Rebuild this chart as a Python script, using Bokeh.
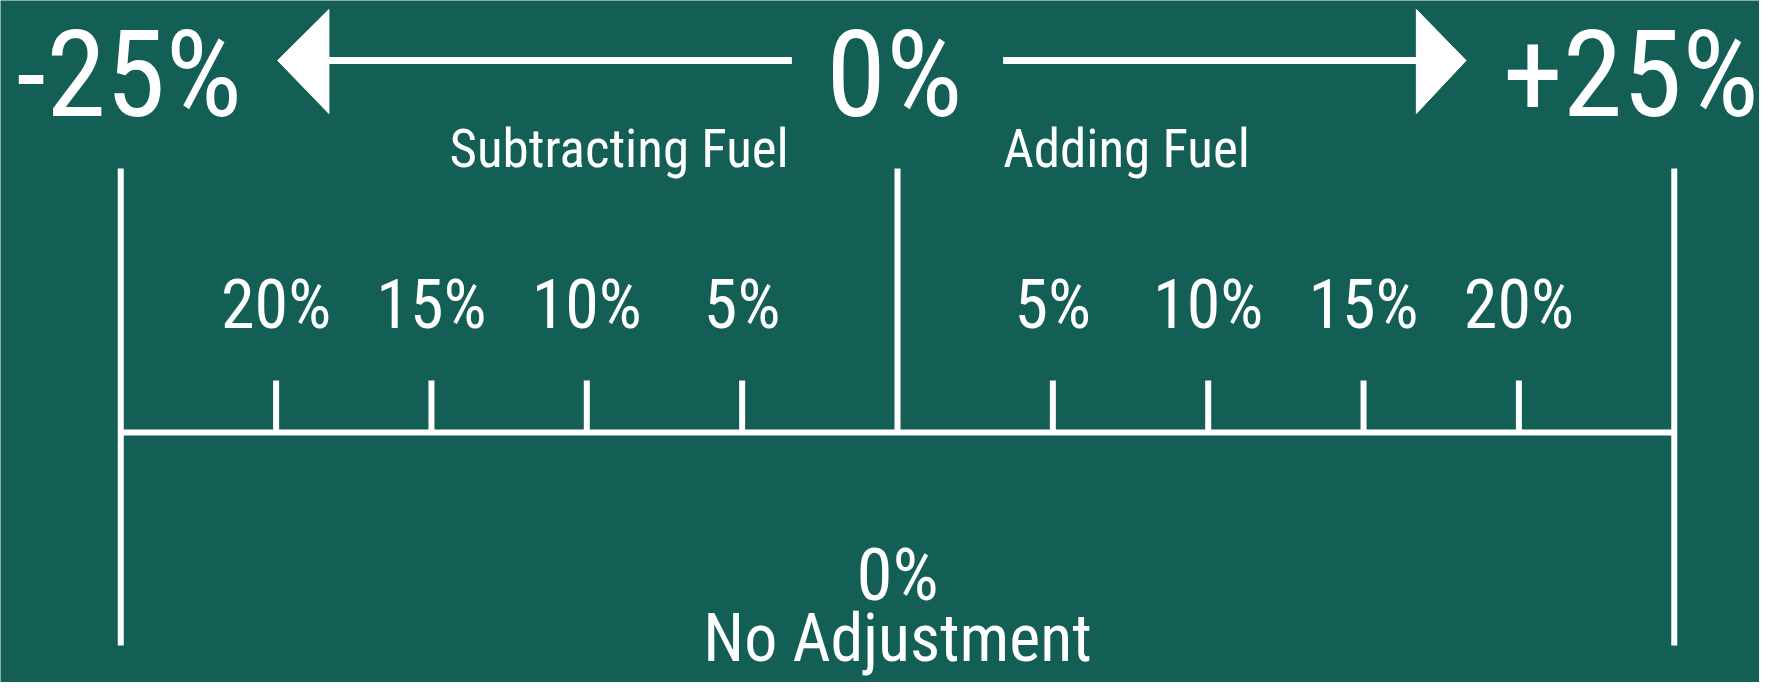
from bokeh.plotting import figure
from bokeh.models import Range1d
from bokeh.core.properties import value
from bokeh.embed import file_html
from bokeh.resources import INLINE

# ---- data ----
tick_values = [-20, -15, -10, -5, 5, 10, 15, 20]
tick_labels = ["20%", "15%", "10%", "5%", "5%", "10%", "15%", "20%"]
end_values = [-25, 0, 25]
end_labels = ["-25%", "0%", "+25%"]
side_labels = ["Subtracting Fuel", "Adding Fuel"]
center_labels = ["0%", "No Adjustment"]

BG = "#135f56"
FG = "#ffffff"
FONT = value("'Roboto Condensed', 'Sofia Sans Condensed', 'Asap Condensed', 'Liberation Sans Narrow', sans-serif")

# scale: 31.07 px per percent, centre at pixel 897
PX = 31.07
CX = 897
W, H = 1759, 682
x0 = (0 - CX) / PX
x1 = (W - CX) / PX
K = 0.35  # baseline correction (fraction of font size)

p = figure(width=W, height=H, output_backend="svg", toolbar_location=None,
           x_range=Range1d(x0, x1), y_range=Range1d(H, 0),
           min_border=0)
p.axis.visible = False
p.grid.visible = False
p.outline_line_color = None
p.background_fill_color = BG
p.border_fill_color = BG


def label(xs, base, texts, size, align="center"):
    p.text(x=xs, y=[base - K * size] * len(xs), text=texts, text_align=align,
           text_baseline="alphabetic", text_color=FG, text_font=FONT,
           text_font_size=f"{size}px")


LW = 6
lo, hi = min(end_values), max(end_values)
# baseline
p.segment(x0=[lo], y0=[432], x1=[hi], y1=[432], line_color=FG, line_width=LW)
# end and centre verticals
p.segment(x0=[lo, hi], y0=[168, 168], x1=[lo, hi], y1=[645, 645], line_color=FG, line_width=LW)
p.segment(x0=[0], y0=[168], x1=[0], y1=[432], line_color=FG, line_width=LW)
# ticks
p.segment(x0=tick_values, y0=[380] * len(tick_values), x1=tick_values, y1=[432] * len(tick_values),
          line_color=FG, line_width=LW)
label(tick_values, 328, tick_labels, 68)

# top labels
end_x = [end_values[0] + 0.27, end_values[1] - 0.1, end_values[2] - 1.4]
label(end_x, 117, end_labels, 121)

# arrows
p.segment(x0=[-18.4, 3.4], y0=[60, 60], x1=[-3.4, 16.8], y1=[60, 60], line_color=FG, line_width=7)
p.patches(xs=[[-19.95, -18.3, -18.3], [18.3, 16.7, 16.7]],
          ys=[[60, 9, 113], [60, 9, 113]], fill_color=FG, line_color=FG)

# side labels
label([-3.5], 167, [side_labels[0]], 53, "right")
label([3.4], 167, [side_labels[1]], 53, "left")

# centre bottom labels
label([0], 600, [center_labels[0]], 73)
label([0], 661, [center_labels[1]], 66)

open("out.html", "w").write(file_html(p, INLINE))
